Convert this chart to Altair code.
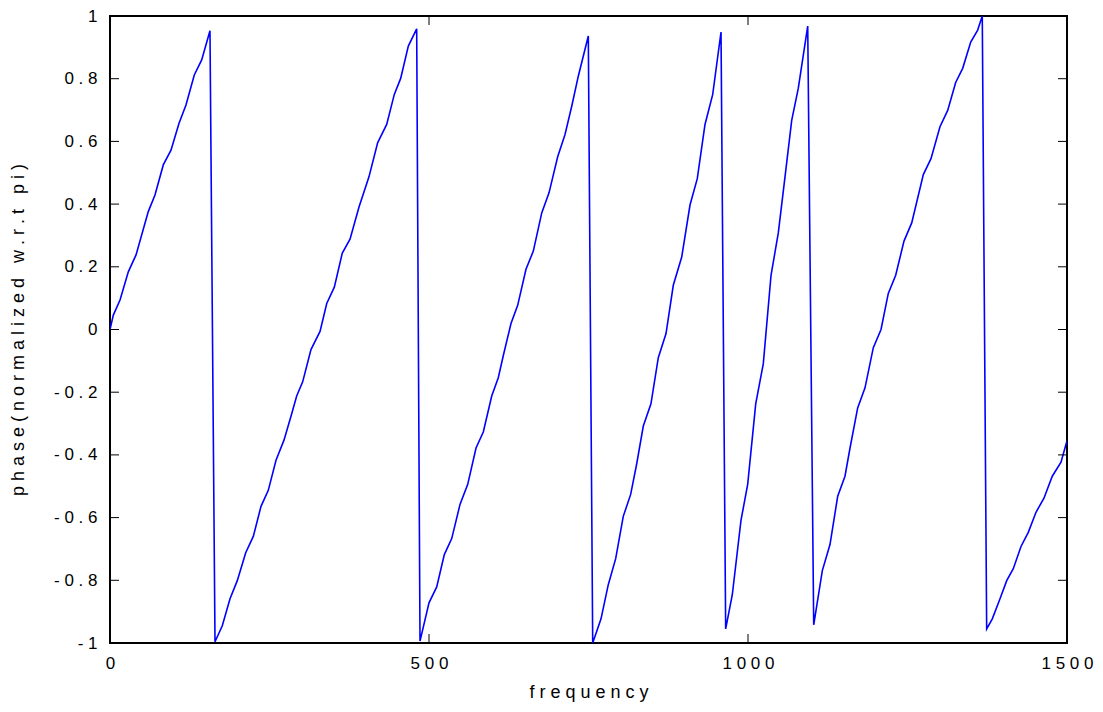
import altair as alt
import pandas as pd

# ---- data ----
freq = [
    0, 5.2, 15.7, 28.7, 40.8, 60.0, 70.5, 83.5, 95.6, 108.2, 119.1, 132.1, 143.7, 156.7,
    164.6, 176.0, 188.1, 199.5, 212.7, 224.6, 236.7, 248.1, 260.2, 272.7, 284.8, 292.6,
    302.0, 315.0, 329.2, 339.7, 351.6, 364.1, 376.2, 390.3, 405.9, 419.6, 433.7, 445.6,
    455.6, 467.6, 480.7,
    485.9, 500.0, 512.1, 524.0, 535.6, 548.6, 560.7, 573.7, 585.1, 598.3, 608.6, 616.5,
    628.5, 639.0, 652.0, 663.5, 676.7, 688.1, 701.7, 713.2, 723.7, 734.0, 749.7,
    756.6, 769.6, 781.0, 792.6, 804.5, 816.1, 825.5, 835.9, 847.9, 859.4, 871.5, 882.9,
    896.1, 909.1, 920.5, 932.6, 944.7, 957.7,
    965.0, 975.4, 989.0, 999.5, 1012.1, 1024.0, 1036.1, 1047.5, 1058.0, 1068.5, 1078.8, 1093.6,
    1103.0, 1116.5, 1128.5, 1140.6, 1152.0, 1159.9, 1171.9, 1183.4, 1196.4, 1208.5, 1219.9,
    1231.5, 1244.5, 1256.6, 1274.8, 1286.8, 1300.9, 1313.0, 1325.5, 1336.5, 1349.1, 1360.0, 1367.2,
    1374.1, 1382.9, 1395.0, 1405.5, 1415.8, 1427.9, 1439.3, 1451.4, 1463.9, 1476.9, 1490.6, 1500.0,
]
phase = [
    0.0, 0.046, 0.094, 0.184, 0.238, 0.376, 0.429, 0.525, 0.572, 0.658, 0.716, 0.812, 0.860, 0.953,
    -0.996, -0.945, -0.859, -0.801, -0.712, -0.660, -0.564, -0.513, -0.417, -0.353, -0.269, -0.212,
    -0.167, -0.064, -0.006, 0.083, 0.135, 0.244, 0.288, 0.391, 0.487, 0.596, 0.654, 0.750,
    0.801, 0.904, 0.959,
    -0.994, -0.872, -0.821, -0.718, -0.667, -0.558, -0.494, -0.378, -0.327, -0.212, -0.154, -0.083,
    0.019, 0.077, 0.192, 0.250, 0.372, 0.436, 0.551, 0.622, 0.712, 0.808, 0.936,
    -1.0, -0.923, -0.814, -0.731, -0.596, -0.526, -0.429, -0.308, -0.237, -0.090, -0.013, 0.141,
    0.231, 0.397, 0.481, 0.654, 0.750, 0.949,
    -0.955, -0.846, -0.609, -0.494, -0.237, -0.109, 0.173, 0.308, 0.487, 0.667, 0.769, 0.968,
    -0.942, -0.769, -0.686, -0.532, -0.468, -0.378, -0.250, -0.186, -0.058, 0.0, 0.115,
    0.173, 0.282, 0.340, 0.494, 0.545, 0.647, 0.699, 0.788, 0.833, 0.917, 0.955, 1.0,
    -0.955, -0.923, -0.859, -0.801, -0.763, -0.692, -0.647, -0.583, -0.538, -0.468, -0.423, -0.355,
]
x_ticks = [0, 500, 1000, 1500]
y_ticks = [-1, -0.8, -0.6, -0.4, -0.2, 0, 0.2, 0.4, 0.6, 0.8, 1]
x_title = "frequency"
y_title = "phase(normalized w.r.t pi)"


def spaced(s):
    # the reference draws its titles letter-spaced
    return "\u00a0".join(s)


W, H = 957, 627
FONT = "Liberation Sans"
LABEL_EXPR = "replace(toString(datum.value), regexp('(.)(?=.)', 'g'), '$1 ')"

xscale = alt.Scale(domain=[0, 1500], nice=False, zero=False)
yscale = alt.Scale(domain=[-1, 1], nice=False, zero=False)

df = pd.DataFrame({"frequency": freq, "phase": phase})

line = alt.Chart(df).mark_line(color="#0000FF", strokeWidth=1.6, clip=True).encode(
    x=alt.X(
        "frequency:Q",
        scale=xscale,
        axis=alt.Axis(
            values=x_ticks,
            labelExpr=LABEL_EXPR,
            title=spaced(x_title),
            titleX=W / 2,
            titleY=49,
            titleAlign="center",
            titleBaseline="middle",
            labelPadding=12,
        ),
    ),
    y=alt.Y(
        "phase:Q",
        scale=yscale,
        axis=alt.Axis(
            values=y_ticks,
            labelExpr=LABEL_EXPR,
            title=spaced(y_title),
            titleX=-92,
            titleY=H / 2,
            titleAngle=270,
            titleAlign="center",
            titleBaseline="middle",
            labelPadding=13,
        ),
    ),
)

ytick_df = pd.DataFrame({"phase": y_ticks})
xtick_df = pd.DataFrame({"frequency": x_ticks})
TL = 9

left_ticks = alt.Chart(ytick_df).mark_rule(color="black", strokeWidth=1).encode(
    y=alt.Y("phase:Q", scale=yscale), x=alt.value(0), x2=alt.value(TL)
)
right_ticks = alt.Chart(ytick_df).mark_rule(color="black", strokeWidth=1).encode(
    y=alt.Y("phase:Q", scale=yscale), x=alt.value(W - TL), x2=alt.value(W)
)
bottom_ticks = alt.Chart(xtick_df).mark_rule(color="black", strokeWidth=1).encode(
    x=alt.X("frequency:Q", scale=xscale), y=alt.value(H - TL), y2=alt.value(H)
)
top_ticks = alt.Chart(xtick_df).mark_rule(color="black", strokeWidth=1).encode(
    x=alt.X("frequency:Q", scale=xscale), y=alt.value(0), y2=alt.value(TL)
)

chart = (
    alt.layer(line, left_ticks, right_ticks, bottom_ticks, top_ticks)
    .properties(
        width=W,
        height=H,
        padding={"left": 110, "top": 16, "right": 36, "bottom": 69},
        autosize=alt.AutoSizeParams(type="none"),
        background="white",
    )
    .configure_view(stroke="black", strokeWidth=2)
    .configure_axis(
        domain=False,
        ticks=False,
        grid=False,
        labelFont=FONT,
        labelFontSize=17,
        labelColor="black",
        labelFlush=False,
        labelOverlap=False,
        titleFont=FONT,
        titleFontSize=18,
        titleFontWeight="normal",
        titleColor="black",
    )
)

chart.save("out.html", embed_options={"renderer": "svg", "actions": False})
